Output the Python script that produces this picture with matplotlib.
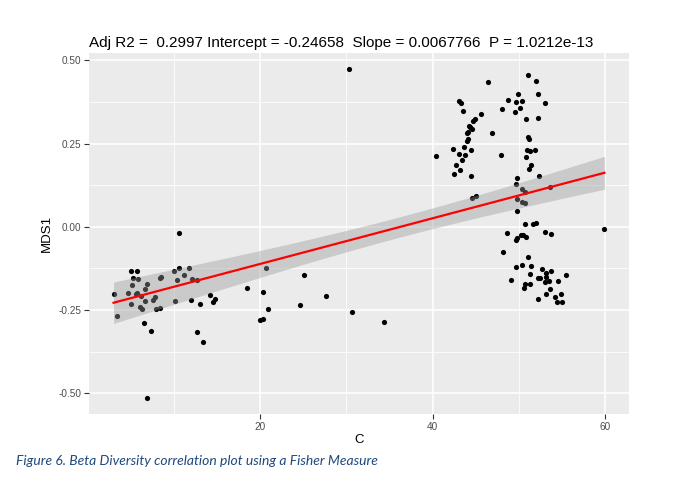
import numpy as np
import matplotlib
matplotlib.use('Agg')
import matplotlib.pyplot as plt

# values
c_left = [3.04, 3.39, 4.74, 5.09, 5.24, 5.20, 5.09, 5.78, 5.90, 5.75, 5.66, 6.05, 6.36,
          6.21, 6.71, 6.71, 6.86, 6.55, 7.36, 6.90, 7.63, 7.83, 7.90, 8.44, 8.55, 8.44,
          10.09, 10.60, 10.44, 10.64, 10.14, 11.18, 11.83, 12.10, 12.06, 12.75, 12.75,
          13.03, 13.41, 14.22, 14.60, 14.80, 18.50, 20.00, 20.38, 20.31, 20.66, 20.92,
          24.62, 25.12, 27.60, 30.67, 34.34, 30.29]
mds_left = [-0.203, -0.267, -0.199, -0.134, -0.153, -0.176, -0.231, -0.132, -0.158, -0.198,
            -0.203, -0.240, -0.248, -0.208, -0.222, -0.186, -0.172, -0.288, -0.313, -0.513,
            -0.221, -0.212, -0.248, -0.155, -0.152, -0.244, -0.133, -0.018, -0.161, -0.124,
            -0.223, -0.144, -0.125, -0.156, -0.220, -0.160, -0.316, -0.231, -0.347, -0.204,
            -0.227, -0.217, -0.184, -0.281, -0.277, -0.197, -0.124, -0.246, -0.236, -0.144,
            -0.209, -0.257, -0.287, 0.473]

c_right = [40.35, 42.39, 43.04, 43.78, 42.74, 43.43, 43.20, 42.46, 44.43, 44.39, 43.66,
           44.01, 44.08, 44.01, 44.05, 44.31, 44.19, 44.59, 44.71, 44.94, 45.58, 43.04,
           43.32, 43.50, 44.54, 45.01, 46.44, 46.90, 47.90, 47.98, 48.75, 49.48, 49.63,
           49.91, 50.06, 50.32, 50.98, 51.94, 52.14, 52.95, 52.14, 50.79, 51.02, 51.13,
           50.95, 51.25, 51.83, 50.79, 51.33, 51.10, 52.29, 49.71, 49.68, 50.32, 50.64,
           53.53, 49.79, 50.37, 50.67, 49.79, 50.64, 51.64, 51.91, 48.64, 50.17, 50.40,
           50.83, 49.68, 49.71, 52.98, 53.72, 59.88, 48.13, 49.63, 50.37, 51.02, 51.36,
           51.21, 52.60, 53.14, 53.72, 49.05, 50.52, 50.72, 51.25, 52.17, 52.37, 53.10,
           52.95, 53.41, 54.53, 55.41, 52.14, 53.14, 53.61, 54.14, 54.37, 54.80, 54.99]
mds_right = [0.212, 0.234, 0.218, 0.215, 0.186, 0.200, 0.170, 0.158, 0.230, 0.152, 0.240,
             0.258, 0.263, 0.281, 0.285, 0.299, 0.303, 0.293, 0.317, 0.323, 0.339, 0.378,
             0.372, 0.348, 0.087, 0.092, 0.434, 0.281, 0.215, 0.354, 0.380, 0.345, 0.374,
             0.399, 0.356, 0.377, 0.456, 0.437, 0.399, 0.372, 0.326, 0.323, 0.270, 0.264,
             0.230, 0.227, 0.230, 0.210, 0.186, 0.174, 0.152, 0.146, 0.128, 0.113, 0.105,
             0.120, 0.083, 0.074, 0.072, 0.047, 0.008, 0.008, 0.012, -0.018, -0.023, -0.025,
             -0.031, -0.038, -0.032, -0.016, -0.021, -0.005, -0.076, -0.120, -0.115, -0.092,
             -0.117, -0.141, -0.126, -0.138, -0.132, -0.160, -0.185, -0.173, -0.173, -0.153,
             -0.154, -0.150, -0.167, -0.162, -0.163, -0.146, -0.218, -0.202, -0.188, -0.211,
             -0.225, -0.202, -0.227]

title = 'Adj R2 =  0.2997 Intercept = -0.24658  Slope = 0.0067766  P = 1.0212e-13'
caption = 'Figure 6. Beta Diversity correlation plot using a Fisher Measure'

x = np.array(c_left + c_right)
y = np.array(mds_left + mds_right)

# linear fit with 95% confidence band (like geom_smooth(method='lm'))
n = len(x)
slope, icpt = np.polyfit(x, y, 1)
resid = y - (icpt + slope * x)
s = np.sqrt(np.sum(resid ** 2) / (n - 2))
sxx = np.sum((x - x.mean()) ** 2)
xs = np.linspace(x.min(), x.max(), 100)
fit = icpt + slope * xs
se = s * np.sqrt(1.0 / n + (xs - x.mean()) ** 2 / sxx)
t = 1.976

fig = plt.figure(figsize=(6.97, 4.86), dpi=100)
ax = fig.add_axes([0.1277, 0.148, 0.7747, 0.743])
ax.set_facecolor('#EBEBEB')
for sp in ax.spines.values():
    sp.set_visible(False)

ax.scatter(x, y, s=14, color='black', linewidths=0, zorder=3)
ax.fill_between(xs, fit - t * se, fit + t * se, color='#999999', alpha=0.4, linewidth=0, zorder=4)
ax.plot(xs, fit, color='red', lw=1.6, zorder=5)

xr = x.max() - x.min()
yr = y.max() - y.min()
ax.set_xlim(x.min() - 0.05 * xr, x.max() + 0.05 * xr)
ax.set_ylim(y.min() - 0.05 * yr, y.max() + 0.05 * yr)

ax.set_xticks([20, 40, 60])
ax.set_yticks([-0.5, -0.25, 0, 0.25, 0.5])
ax.set_yticklabels(['-0.50', '-0.25', '0.00', '0.25', '0.50'])
ax.set_xticks([10, 30, 50], minor=True)
ax.set_yticks([-0.375, -0.125, 0.125, 0.375], minor=True)
ax.grid(which='major', color='white', lw=1.1, zorder=0)
ax.grid(which='minor', color='white', lw=0.55, zorder=0)
ax.set_axisbelow(True)
ax.tick_params(which='major', length=3.5, width=0.8, color='#333333', labelsize=7.2,
               labelcolor='#4D4D4D', pad=2)
ax.tick_params(which='minor', length=0)

ax.set_xlabel('C', fontsize=9.5, family='Liberation Sans', labelpad=2)
ax.set_ylabel('MDS1', fontsize=9.5, family='Liberation Sans', labelpad=4)
for lab in ax.get_xticklabels() + ax.get_yticklabels():
    lab.set_family('Liberation Sans')
ax.set_title(title, loc='left', fontsize=10.95, family='Liberation Sans', pad=4)

fig.text(0.023, 0.052, caption, fontsize=10, style='italic', color='#1F497D',
         family='Lato', va='center', ha='left')

fig.savefig('out.png', dpi=100)
